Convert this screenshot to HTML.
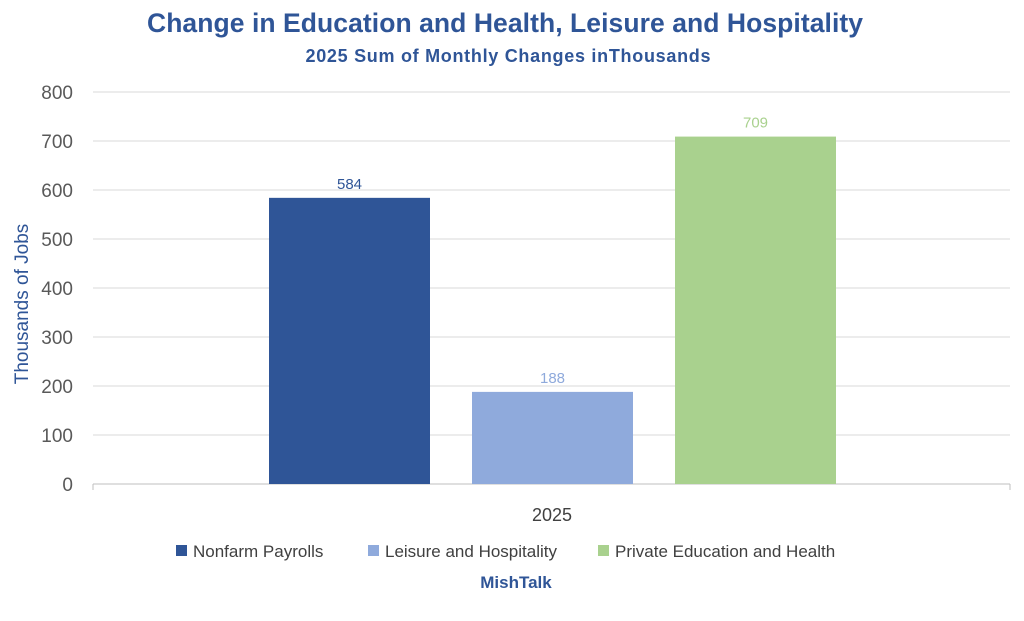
<!DOCTYPE html>
<html><head><meta charset="utf-8"><style>
body{margin:0;background:#fff;width:1024px;height:616px;overflow:hidden;font-family:"Liberation Sans",sans-serif}
</style></head><body>
<svg width="1024" height="616" id="svg">
<text x="505" y="32" text-anchor="middle" font-size="26.5" font-weight="bold" fill="#2F5597" textLength="716">Change in Education and Health, Leisure and Hospitality</text>
<text x="508" y="62" text-anchor="middle" font-size="18" font-weight="bold" fill="#2F5597" textLength="405">2025 Sum of Monthly Changes inThousands</text>
<text transform="translate(28,304) rotate(-90)" text-anchor="middle" font-size="19" fill="#2F5597">Thousands of Jobs</text>
<g id="grid"></g><g id="bars"></g>
<line x1="93" x2="93" y1="484" y2="490" stroke="#BFBFBF"/>
<line x1="1010" x2="1010" y1="484" y2="490" stroke="#BFBFBF"/>
<text x="552" y="521" text-anchor="middle" font-size="18" fill="#404040">2025</text>
<g id="legend"></g>
<text x="516" y="588" text-anchor="middle" font-size="17" font-weight="bold" fill="#2F5597">MishTalk</text>
</svg>
<script>
const categories=["Nonfarm Payrolls","Leisure and Hospitality","Private Education and Health"];
const values=[584,188,709];
const colors=["#2F5597","#8FAADC","#A9D18E"];
const ticks=[0,100,200,300,400,500,600,700,800];
const NS="http://www.w3.org/2000/svg";
const x0=93,x1=1010,yb=484,yt=92,ymax=800;
const y=v=>yb-(v/ymax)*(yb-yt);
function mk(t,a,p){const e=document.createElementNS(NS,t);for(const k in a)e.setAttribute(k,a[k]);p.appendChild(e);return e;}
const g=document.getElementById('grid');
ticks.forEach(t=>{
 const l=mk('line',{x1:x0,x2:x1,y1:y(t),y2:y(t),stroke:t===0?'#BFBFBF':'#D9D9D9','stroke-width':1},g);
 
 
 const tx=mk('text',{x:73,y:y(t)+7,'text-anchor':'end','font-size':19,fill:'#595959'},g);
 tx.textContent=t;
 
 
});
const b=document.getElementById('bars');
const bw=161,gap=42,start=269;
values.forEach((v,i)=>{
 const bx=start+i*(bw+gap);
 const r=mk('rect',{x:bx,y:y(v),width:bw,height:yb-y(v),fill:colors[i]},b);
 
 
 const t=mk('text',{x:bx+bw/2,y:y(v)-9,'text-anchor':'middle','font-size':15,fill:colors[i]},b);
 t.textContent=v;
 
 
});
const lg=document.getElementById('legend');
const lx=[176,368,598];
categories.forEach((c,i)=>{
 const r=mk('rect',{x:lx[i],y:545,width:11,height:11,fill:colors[i]},lg);
 
 
 const t=mk('text',{x:lx[i]+17,y:557,'font-size':17,fill:'#404040'},lg);
 t.textContent=c;
 
 
});
</script>
</body></html>
